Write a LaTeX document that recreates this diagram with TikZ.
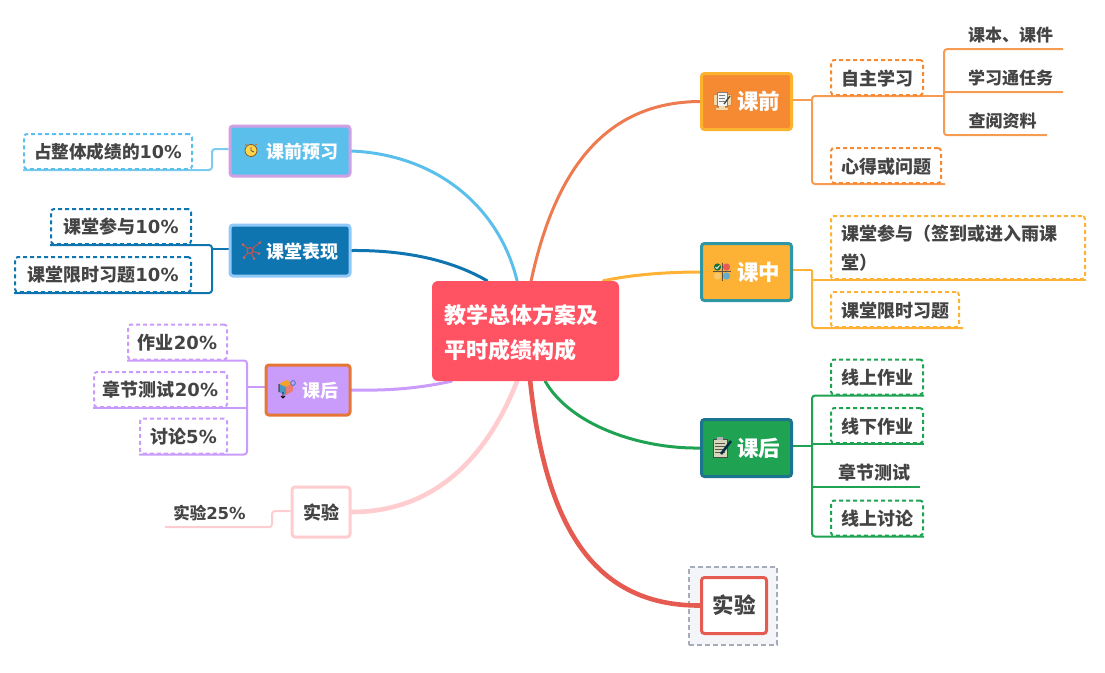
\documentclass[tikz,border=0pt]{standalone}
\usepackage{fontspec}
\setmainfont{Noto Sans CJK SC}
\newfontfamily\numfont{DejaVu Sans}
\usetikzlibrary{calc, backgrounds}

\definecolor{inkText}{HTML}{444444}
\definecolor{rootRed}{HTML}{FF5364}
\definecolor{preOrange}{HTML}{F58A33}
\definecolor{preEdge}{HTML}{FDB22E}
\definecolor{preCurve}{HTML}{EE7A50}
\definecolor{midYellow}{HTML}{FDB235}
\definecolor{midEdge}{HTML}{2F97A4}
\definecolor{postGreen}{HTML}{1FA352}
\definecolor{postEdge}{HTML}{1B7490}
\definecolor{labRed}{HTML}{E55B52}
\definecolor{skyBlue}{HTML}{5BBFEC}
\definecolor{skyEdge}{HTML}{D0A0E4}
\definecolor{deepBlue}{HTML}{0F75B0}
\definecolor{deepEdge}{HTML}{90C8F8}
\definecolor{lilac}{HTML}{C99BFA}
\definecolor{lilacEdge}{HTML}{E67636}
\definecolor{blush}{HTML}{FFCDD0}
\definecolor{frameGray}{HTML}{A6ACB8}
\definecolor{frameFill}{HTML}{F3F5F8}
\definecolor{paperTan}{HTML}{F3D9A8}

\newcommand{\pct}[1]{{\numfont #1\%}}

\tikzset{
    rootbox/.style={fill=rootRed, rounded corners=6pt, text=white, inner sep=0pt,
        minimum width=187pt, minimum height=100pt, align=left, text width=163pt,
        text height=20pt, text depth=36pt,
        font=\fontsize{22}{35}\selectfont\bfseries},
    topic/.style 2 args={draw=#2, fill=#1, line width=3pt, rounded corners=3pt,
        inner sep=0pt, text=white, text height=18pt, text depth=2pt},
    bigtext/.style={font=\fontsize{21.5}{26}\selectfont\bfseries},
    midtext/.style={font=\fontsize{18}{24}\selectfont\bfseries, text height=17pt},
    sub/.style={draw=#1, line width=2pt, dash pattern=on 4pt off 3pt, rounded corners=3pt,
        inner sep=0pt, minimum height=35pt, text=inkText, text height=17pt, text depth=2pt,
        font=\fontsize{18}{29}\selectfont\bfseries},
    plain/.style={inner sep=0pt, minimum height=30pt, text=inkText, text height=17pt, text depth=2pt,
        font=\fontsize{17}{28}\selectfont\bfseries},
    curve/.style={draw=#1, line width=3pt, line cap=round},
    fatcurve/.style={draw=#1, line width=4.6pt, line cap=round},
    branch/.style={draw=#1, line width=2pt, rounded corners=3pt},
    stem/.style={draw=#1, line width=2.6pt},
    pics/notesicon/.style={code={
        \draw[fill=paperTan, draw=brown!50!preOrange, line width=.6pt] (-9,-7) rectangle (9,4);
        \draw[fill=white!92!gray, draw=gray, line width=.6pt] (-5,-9) rectangle (5,5);
        \foreach \row in {-6,-3,0} {\draw[gray, line width=.8pt] (-3,\row) -- (3,\row);}
        \draw[inkText, line width=1.3pt] (2,3) -- (8,-5);
        \fill[paperTan] (-3,5) rectangle (3,7);
        \fill[paperTan] (-6,7) rectangle (6,9);
    }},
    pics/markicon/.style={code={
        \draw[inkText!80!brown, line width=1pt] (-9,0) -- (9,0) (0,-9) -- (0,9);
        \fill[postGreen!70!black] (-4.5,-4.5) circle (3.6);
        \draw[white, line width=.8pt] (-6.5,-4.5) -- (-5,-3) -- (-2.5,-6);
        \fill[labRed] (4.5,-4.5) circle (3.6);
        \fill[preEdge!50!paperTan] (-4.5,4.5) circle (3.6);
        \fill[skyBlue!70!gray] (4.5,4.5) circle (3.6);
    }},
    pics/padicon/.style={code={
        \draw[fill=yellow!30!gray!50!white, draw=black!70, line width=.8pt] (-9,-8) rectangle (5,10);
        \fill[gray!60] (-5,-10) rectangle (1,-7);
        \foreach \row in {-4,-1,2,5} {\draw[gray!70!black, line width=.7pt] (-7,\row) -- (3,\row);}
        \draw[deepBlue!40!black, line width=2.6pt] (-1,7) -- (9,-6);
    }},
    pics/clockicon/.style={code={
        \draw[fill=yellow!60!orange!70!white, draw=brown!70!black, line width=.8pt] (0,.5) circle (6);
        \draw[black!70, line width=.7pt] (0,.5) -- (0,-3) (0,.5) -- (3,2);
        \fill[brown] (-5,-5.5) circle (1.2) (5,-5.5) circle (1.2);
    }},
    pics/hubicon/.style={code={
        \foreach \tx/\ty in {-8/-6, 9/-8, 8/3, -7/7, 3/8} {
            \draw[labRed!90!black, line width=.9pt] (-1,0) -- (\tx,\ty);
            \fill[labRed!60!gray] (\tx,\ty) circle (1.5);
        }
        \draw[labRed!90!black, fill=deepBlue, line width=1.1pt] (-1,0) circle (3);
    }},
    pics/cubeicon/.style={code={
        \fill[preOrange!80!yellow] (-8,-5) -- (-1,-9) -- (6,-6) -- (-1,-2) -- cycle;
        \fill[skyBlue!80!black] (-8,-5) -- (-1,-2) -- (-1,6) -- (-8,3) -- cycle;
        \fill[labRed!80!white] (-1,-2) -- (6,-6) -- (6,2) -- (-1,6) -- cycle;
        \draw[black, line width=.8pt] (-8,-5) -- (-8,3) (-4,3) -- (-4,9) (-6,7) -- (-4,9) -- (-2,7);
        \draw[deepBlue, fill=lilac, line width=.6pt] (6,-6) circle (2.4);
    }},
}

\begin{document}
\begin{tikzpicture}[x=1pt, y=-1pt]
    \useasboundingbox (0,0) rectangle (1105,672);

    % root
    \node[rootbox] (root) at (525.5,331) {教学总体方案及\\平时成绩构成};

    % right side
    \node[topic={preOrange}{preEdge}, bigtext, minimum width=90pt, minimum height=56pt] (pre) at (746.5,101.5) {\hspace{24pt}课前};
    \node[topic={midYellow}{midEdge}, bigtext, minimum width=90pt, minimum height=57pt] (mid) at (746.5,272) {\hspace{24pt}课中};
    \node[topic={postGreen}{postEdge}, bigtext, minimum width=90pt, minimum height=57pt] (post) at (746.5,448) {\hspace{24pt}课后};
    \node[topic={white}{labRed}, bigtext, text=inkText, minimum width=65pt, minimum height=56pt] (lab) at (734,605.5) {实验};

    \node[sub=preOrange, minimum width=92pt] (selfstudy) at (877,77.5) {自主学习};
    \node[sub=preOrange, minimum width=110pt] (notes) at (886,165.5) {心得或问题};
    \node[plain, minimum width=105pt] (book) at (1010.5,34) {课本、课件};
    \node[plain, minimum width=105pt] (task) at (1010.5,77) {学习通任务};
    \node[plain, minimum width=89pt] (lookup) at (1002.5,120) {查阅资料};

    \node[sub=midYellow, minimum width=254pt, minimum height=63pt, align=left, text width=234pt, text height=14pt, text depth=29pt] (attend) at (958,247.5) {课堂参与（签到或进入雨课\\堂）};
    \node[sub=midYellow, minimum width=128pt] (quiz) at (895,309.5) {课堂限时习题};

    \node[sub=postGreen, minimum width=92pt] (onhw) at (877,377) {线上作业};
    \node[sub=postGreen, minimum width=92pt] (offhw) at (877,425.6) {线下作业};
    \node[plain, font=\fontsize{18}{28}\selectfont\bfseries, minimum width=92pt] (unit) at (874,472) {章节测试};
    \node[sub=postGreen, minimum width=92pt] (talk) at (877,518) {线上讨论};

    % left side
    \node[topic={skyBlue}{skyEdge}, midtext, minimum width=120pt, minimum height=50pt] (prep) at (290,151) {\hspace{25pt}课前预习};
    \node[topic={deepBlue}{deepEdge}, midtext, minimum width=120pt, minimum height=51pt] (show) at (290,250.5) {\hspace{25pt}课堂表现};
    \node[topic={lilac}{lilacEdge}, midtext, minimum width=84pt, minimum height=50pt] (after) at (308,390) {\hspace{25pt}课后};
    \node[topic={white}{blush}, midtext, text=inkText, minimum width=58pt, minimum height=50pt] (exper) at (321,512) {实验};

    \node[sub=skyBlue, font=\fontsize{17.6}{28}\selectfont\bfseries, text height=16pt, minimum width=168pt] (share) at (108,151.5) {占整体成绩的\pct{10}};
    \node[sub=deepBlue, text height=16pt, minimum width=140pt] (joinpct) at (121,226.5) {课堂参与\pct{10}};
    \node[sub=deepBlue, text height=16pt, minimum width=176pt] (quizpct) at (103,274.5) {课堂限时习题\pct{10}};
    \node[sub=lilac, text height=16pt, minimum width=99pt] (hwpct) at (177.5,342) {作业\pct{20}};
    \node[sub=lilac, text height=16pt, minimum width=133pt] (unitpct) at (160.5,389.5) {章节测试\pct{20}};
    \node[sub=lilac, text height=16pt, minimum width=87pt] (talkpct) at (183.5,436) {讨论\pct{5}};
    \node[plain, font=\fontsize{16.5}{24}\selectfont\bfseries, minimum width=89pt] (labpct) at (209.5,512) {实验\pct{25}};

    % icons
    \pic at (722,101) {notesicon};
    \pic at (722,271.5) {markicon};
    \pic at (722,447) {padicon};
    \pic at (251,150) {clockicon};
    \pic at (251,250.5) {hubicon};
    \pic at (287,389) {cubeicon};

    % joints of the brackets
    \coordinate (prejoint) at (812,100);
    \coordinate (selfjoint) at (944,92);
    \coordinate (midjoint) at (812,270);
    \coordinate (postjoint) at (812,446);
    \coordinate (sharejoint) at (212,149);
    \coordinate (showjoint) at (212,249);
    \coordinate (afterjoint) at (247,387);
    \coordinate (labjoint) at (272,511);

    \begin{pgfonlayer}{background}
        \node[draw=frameGray, fill=frameFill, line width=2pt, dash pattern=on 5pt off 3pt, minimum width=88pt, minimum height=78pt, inner sep=0pt] (labframe) at (733,606) {};

        % main curves
        \draw[curve=preCurve] ($(root.north west)!0.53!(root.north east)$) .. controls (555,170) and (605,102) .. (pre.west);
        \draw[curve=midYellow] ($(root.north west)!0.915!(root.north east)$) .. controls (630,275) and (665,272) .. (mid.west);
        \draw[curve=postGreen] ($(root.south west)!0.605!(root.south east)$) .. controls (570,425) and (640,449) .. (post.west);
        \draw[fatcurve=labRed] ($(root.south west)!0.525!(root.south east)$) .. controls (545,520) and (590,606) .. (lab.west);
        \draw[curve=skyBlue] (prep.east) .. controls (440,155) and (500,210) .. ($(root.north west)!0.455!(root.north east)$);
        \draw[curve=deepBlue] (show.east) .. controls (410,250) and (455,262) .. ($(root.north west)!0.295!(root.north east)$);
        \draw[curve=lilac] (after.east) .. controls (395,391) and (425,387) .. ($(root.south west)!0.105!(root.south east)$);
        \draw[fatcurve=blush] (exper.east) .. controls (440,512) and (490,450) .. ($(root.south west)!0.455!(root.south east)$);

        % right branches
        \draw[stem=preOrange!85!white] (pre.east |- prejoint) -- (prejoint);
        \draw[branch=preOrange!85!white] (selfstudy.south east) -- (prejoint |- selfstudy.south) |- (notes.south west) -- ($(notes.south east)+(3,0)$);
        \draw[branch=preOrange!85!white] (selfstudy.south east) -- (selfstudy.south -| selfjoint);
        \draw[branch=preOrange!85!white] (book.south east) -- (book.south -| selfjoint) |- (lookup.south east);
        \draw[branch=preOrange!85!white] (selfjoint) -- (task.south east);

        \draw[stem=midYellow] (mid.east |- midjoint) -- (midjoint);
        \draw[branch=midYellow] (midjoint) |- (quiz.south west) -- ($(quiz.south east)+(3,0)$);
        \draw[branch=midYellow] (midjoint |- attend.south) -- (attend.south east);

        \draw[stem=postGreen] (post.east |- postjoint) -- (postjoint);
        \draw[branch=postGreen] (onhw.south east) -- (postjoint |- onhw.south) |- (talk.south east);
        \draw[branch=postGreen] (postjoint |- offhw.south) -- (offhw.south east);
        \draw[branch=postGreen] (postjoint |- unit.south) -- (unit.south east);

        % left branches
        \draw[branch=skyBlue!80!white] (share.south west) -- (share.south east) -| (sharejoint) -- (prep.west |- sharejoint);
        \draw[stem=deepBlue] (showjoint) -- (show.west |- showjoint);
        \draw[branch=deepBlue] (joinpct.south west) -- (showjoint |- joinpct.south) |- (quizpct.south west);
        \draw[stem=lilac] (afterjoint) -- (after.west |- afterjoint);
        \draw[branch=lilac] (hwpct.south west) -- (afterjoint |- hwpct.south) |- (talkpct.south west);
        \draw[branch=lilac] (unitpct.south west) -- (afterjoint |- unitpct.south);
        \draw[branch=blush] (labpct.south west) -| (labjoint) -- (exper.west |- labjoint);
    \end{pgfonlayer}
\end{tikzpicture}
\end{document}
